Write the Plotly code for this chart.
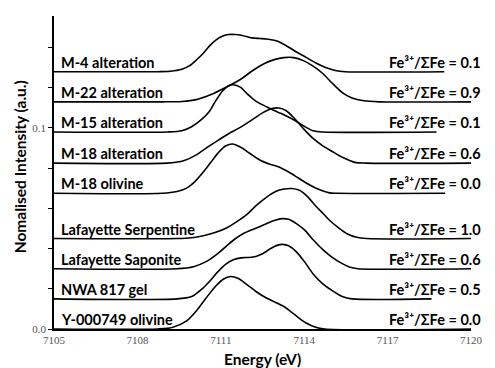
import plotly.graph_objects as go

# ---------------- data (energy in eV, intensity above each trace's baseline) ----------------
names = ["M-4 alteration", "M-22 alteration", "M-15 alteration", "M-18 alteration",
         "M-18 olivine", "Lafayette Serpentine", "Lafayette Saponite", "NWA 817 gel",
         "Y-000749 olivine"]
fe_ratio = ["0.1", "0.9", "0.1", "0.6", "0.0", "1.0", "0.6", "0.5", "0.0"]
offsets = [0.128, 0.113, 0.098, 0.0825, 0.0675, 0.045, 0.030, 0.015, 0.0]

m4_e = [7105, 7108.72, 7109.18, 7109.60, 7109.88, 7110.12, 7110.37, 7110.58, 7110.82, 7111.07,
        7111.28, 7111.52, 7111.77, 7112.12, 7112.40, 7112.64, 7113.02, 7113.37, 7113.72, 7114.07,
        7114.42, 7114.77, 7115.12, 7115.47, 7119.04]
m4_i = [0, 0, 0.0002, 0.0012, 0.0030, 0.0058, 0.0092, 0.0126, 0.0157, 0.0177,
        0.0185, 0.0185, 0.0180, 0.0168, 0.0165, 0.0163, 0.0153, 0.0128, 0.0098, 0.0071,
        0.0043, 0.0021, 0.0006, 0, 0]

m22_e = [7105, 7108.9, 7109.6, 7110.12, 7110.65, 7111.17, 7111.70, 7112.15, 7112.57, 7112.92,
         7113.27, 7113.62, 7113.97, 7114.32, 7114.67, 7115.02, 7115.37, 7115.72, 7116.14, 7116.70, 7120]
m22_i = [0, 0, 0.0002, 0.0011, 0.0036, 0.0071, 0.0111, 0.0156, 0.0191, 0.0210,
         0.0220, 0.0220, 0.0205, 0.0178, 0.0141, 0.0091, 0.0046, 0.0019, 0.0005, 0, 0]

m15_e = [7105, 7109.07, 7109.6, 7109.95, 7110.30, 7110.58, 7110.82, 7111.07, 7111.28, 7111.45,
         7111.70, 7111.98, 7112.29, 7112.64, 7113.02, 7113.34, 7113.62, 7113.97, 7114.32, 7114.67, 7118.76]
m15_i = [0, 0, 0.0006, 0.0026, 0.0061, 0.0101, 0.0156, 0.0205, 0.0230, 0.0235,
         0.0223, 0.0186, 0.0151, 0.0126, 0.0101, 0.0081, 0.0061, 0.0031, 0.0006, 0, 0]

m18a_e = [7105, 7109.07, 7109.6, 7110.12, 7110.54, 7110.93, 7111.28, 7111.70, 7112.12, 7112.50,
          7112.85, 7113.09, 7113.34, 7113.62, 7113.97, 7114.32, 7114.67, 7115.02, 7115.37, 7115.82,
          7116.24, 7120]
m18a_i = [0, 0, 0.0009, 0.0041, 0.0081, 0.0116, 0.0146, 0.0178, 0.0215, 0.0250,
          0.0272, 0.0274, 0.0262, 0.0227, 0.0172, 0.0123, 0.0086, 0.0057, 0.0029, 0.0004,
          0, 0]

m18o_e = [7105, 7108.9, 7109.42, 7109.77, 7110.05, 7110.37, 7110.65, 7110.93, 7111.17, 7111.42,
          7111.70, 7112.05, 7112.40, 7112.74, 7113.09, 7113.44, 7113.79, 7114.14, 7114.49, 7114.91,
          7115.19, 7119.07]
m18o_i = [0, 0, 0.0009, 0.0026, 0.0056, 0.0106, 0.0156, 0.0205, 0.0235, 0.0245,
          0.0230, 0.0198, 0.0166, 0.0146, 0.0131, 0.0106, 0.0076, 0.0046, 0.0021, 0.0002,
          0, 0]

serp_e = [7105, 7109.42, 7109.95, 7110.37, 7110.82, 7111.24, 7111.59, 7111.94, 7112.29, 7112.64,
          7112.99, 7113.27, 7113.55, 7113.83, 7114.11, 7114.39, 7114.67, 7114.95, 7115.23, 7115.54,
          7115.89, 7116.24, 7120]
serp_i = [0, 0, 0.0004, 0.0014, 0.0031, 0.0055, 0.0085, 0.0120, 0.0166, 0.0205,
          0.0235, 0.0246, 0.0249, 0.0240, 0.0210, 0.0166, 0.0126, 0.0086, 0.0054, 0.0024,
          0.0006, 0, 0]

sap_e = [7105, 7109.42, 7110.02, 7110.47, 7110.89, 7111.24, 7111.52, 7111.80, 7112.12, 7112.40,
         7112.67, 7112.95, 7113.20, 7113.44, 7113.72, 7114.04, 7114.32, 7114.67, 7115.02, 7115.37,
         7115.65, 7115.93, 7120]
sap_i = [0, 0, 0.0010, 0.0035, 0.0075, 0.0117, 0.0149, 0.0174, 0.0194, 0.0209,
         0.0226, 0.0241, 0.0249, 0.0246, 0.0224, 0.0189, 0.0144, 0.0095, 0.0055, 0.0025,
         0.0007, 0, 0]

nwa_e = [7105, 7109.42, 7109.95, 7110.37, 7110.65, 7110.89, 7111.17, 7111.45, 7111.73, 7112.01,
         7112.26, 7112.50, 7112.78, 7113.02, 7113.23, 7113.44, 7113.72, 7114.04, 7114.32, 7114.67,
         7115.02, 7115.37, 7115.72, 7118.58]
nwa_i = [0, 0, 0.0012, 0.0055, 0.0095, 0.0134, 0.0172, 0.0194, 0.0204, 0.0206,
         0.0211, 0.0224, 0.0249, 0.0266, 0.0271, 0.0264, 0.0234, 0.0179, 0.0124, 0.0075,
         0.0040, 0.0012, 0, 0]

y749_e = [7105, 7108.72, 7109.25, 7109.77, 7110.12, 7110.47, 7110.82, 7111.10, 7111.35, 7111.63,
          7111.94, 7112.29, 7112.64, 7113.02, 7113.27, 7113.51, 7113.79, 7114.07, 7114.39, 7114.74, 7120]
y749_i = [0, 0, 0.0007, 0.0040, 0.0090, 0.0154, 0.0214, 0.0249, 0.0261, 0.0251,
          0.0221, 0.0184, 0.0154, 0.0129, 0.0112, 0.0087, 0.0057, 0.0030, 0.0010, 0, 0]

energies = [m4_e, m22_e, m15_e, m18a_e, m18o_e, serp_e, sap_e, nwa_e, y749_e]
intensities = [m4_i, m22_i, m15_i, m18a_i, m18o_i, serp_i, sap_i, nwa_i, y749_i]

x_ticks = [7105, 7108, 7111, 7114, 7117, 7120]
y_ticks = [0.0, 0.02, 0.04, 0.06, 0.08, 0.10, 0.12, 0.14]
y_ticktext = ["0.0", "", "", "", "", "0.1", "", ""]

# ---------------- figure ----------------
fig = go.Figure()
for e, i, off in zip(energies, intensities, offsets):
    fig.add_trace(go.Scatter(x=e, y=[v + off for v in i], mode="lines",
                             line=dict(color="black", width=1.6, shape="spline", smoothing=0.8),
                             showlegend=False, hoverinfo="skip"))

FAM = "Lato, Open Sans, sans-serif"
label_font = dict(family=FAM, size=14.5, color="black", weight="bold")
annotations = []
for name, r, off in zip(names, fe_ratio, offsets):
    annotations.append(dict(x=7105.2, y=off, xref="x", yref="y", text=name,
                            xanchor="left", yanchor="bottom", showarrow=False, font=label_font,
                            borderpad=0))
    annotations.append(dict(x=7120, y=off, xref="x", yref="y",
                            text="Fe³⁺/ΣFe = %s" % r,
                            xanchor="right", yanchor="bottom", showarrow=False, font=label_font,
                            borderpad=0, xshift=11))
annotations.append(dict(x=-0.083, y=0.518, xref="paper", yref="paper",
                        text="Nomalised Intensity (a.u.)", textangle=-90,
                        xanchor="center", yanchor="middle", showarrow=False,
                        font=dict(family=FAM, size=15.5, color="black", weight="bold")))
annotations.append(dict(x=0.5, y=-0.06, xref="paper", yref="paper",
                        text="Energy (eV)", xanchor="center", yanchor="top",
                        showarrow=False,
                        font=dict(family=FAM, size=15.5, color="black", weight="bold")))

tick_font = dict(family="Liberation Serif, serif", size=11, color="#555555")
fig.update_layout(
    width=495, height=368, autosize=False,
    margin=dict(l=54, r=12, t=16, b=39, pad=0),
    paper_bgcolor="white", plot_bgcolor="white",
    annotations=annotations,
    xaxis=dict(range=[7105, 7120], tickvals=x_ticks, ticktext=[str(t) for t in x_ticks],
               showline=True, linecolor="black", linewidth=1.5, showgrid=False, zeroline=False,
               ticks="", tickfont=tick_font),
    yaxis=dict(range=[0, 0.1557], tickvals=y_ticks, ticktext=y_ticktext,
               showline=True, linecolor="black", linewidth=1.5, showgrid=False, zeroline=False,
               ticks="outside", ticklen=4, tickcolor="black", tickwidth=1, tickfont=tick_font),
)

fig.write_html("out.html", config={"displayModeBar": False},
               post_script="document.body.style.margin='0';document.body.style.padding='0';")
